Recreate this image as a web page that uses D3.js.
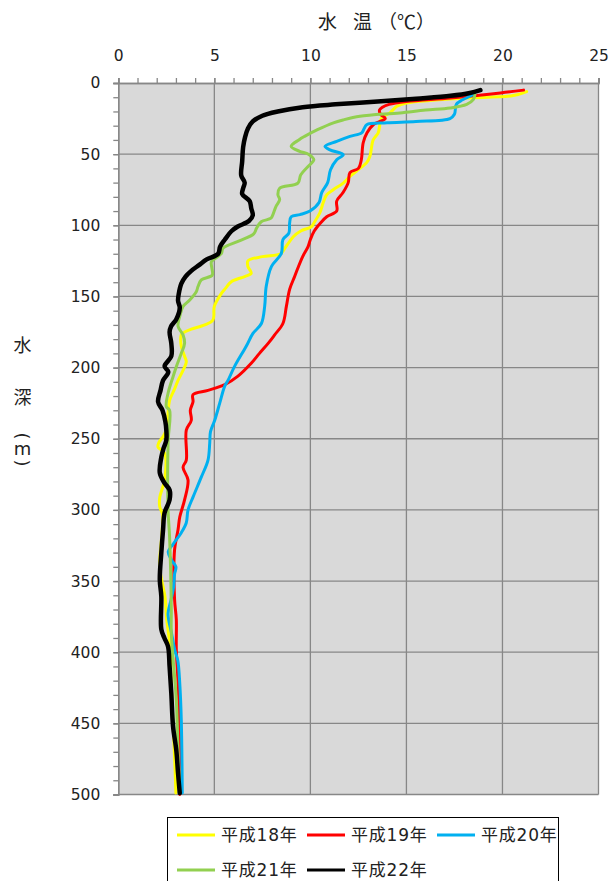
<!DOCTYPE html>
<html>
<head>
<meta charset="utf-8">
<script src="https://cdn.jsdelivr.net/npm/d3@7"></script>
<style>
  html, body { margin: 0; padding: 0; background: #fff; }
  svg { display: block; font-family: "Noto Sans CJK JP", "Noto Sans", sans-serif; }
</style>
</head>
<body>
<svg id="chart" width="611" height="881"></svg>
<script>
// Water temperature profiles: [depth (m), temperature (°C)]
const h18 = [[6,21.26],[9,20.5],[10.5,18.1],[12,16.5],[14,15],[16.4,14.5],[21,14.14],[24.6,13.7],[30.5,13.6],[35,13.53],[40,13.27],[51.5,13.1],[56,12.93],[60,12.58],[65.6,12.06],[70.3,11.71],[75,11.19],[78.5,10.85],[84,10.67],[91,10.5],[98,10.2],[101,10.05],[104,9.5],[108,9.11],[116,8.68],[120,8.45],[122,7.5],[125,6.75],[129,6.75],[133.7,6.92],[136,6.58],[139.6,5.88],[144,5.6],[148,5.36],[157,5.0],[166.5,4.93],[170,4.5],[173,3.8],[175,3.45],[177,3.28],[185,3.28],[192,3.45],[196,3.54],[202,3.37],[209,3.11],[215,2.93],[223,2.67],[232,2.59],[242,2.55],[248,2.35],[253,2.1],[256,2.07],[260,2.41],[279,2.41],[291,2.16],[298,2.16],[303,2.3],[320,2.25],[335,2.16],[345,2.2],[361,2.43],[377,2.52],[396,2.69],[420,2.75],[450,2.85],[480,2.95],[499,3.0]];

const h19 = [[5,21.1],[7,19.9],[10.5,17.3],[13,15],[15,14.1],[17,13.75],[19,13.6],[22,13.65],[25,13.9],[29,13.3],[35,12.95],[42,12.75],[54,12.65],[60,12.5],[63,12.06],[70,11.97],[77,11.7],[83,11.37],[90,11.37],[94,10.85],[98,10.55],[104,10.2],[110,10.0],[115,9.88],[122,9.6],[130,9.35],[136,9.18],[145,8.92],[157,8.75],[169,8.57],[177,8.14],[183,7.8],[190,7.35],[197,6.92],[206,6.23],[212,5.54],[216,4.67],[219,3.89],[224,3.89],[230,3.75],[237,3.8],[244,3.54],[265,3.54],[270,3.37],[279,3.63],[293,3.45],[305,3.2],[314,3.11],[328,2.93],[363,2.93],[377,3.02],[398,3.02],[421,3.11],[457,3.2],[500,3.2]];

const h20 = [[8,18.48],[10,18.2],[12,17.9],[15,17.6],[22,17.5],[25,17.27],[27,15.5],[28,14.0],[29.3,12.93],[32,12.8],[35,12.67],[37.5,12.06],[41,11.37],[44.5,10.76],[47,11.02],[50.4,11.71],[54,11.37],[61,11.05],[70,10.9],[77,10.59],[84,10.45],[90,9.98],[92.5,9.46],[94,9.0],[98.4,8.92],[105.5,8.88],[110,8.57],[119.7,8.49],[129,7.97],[143,7.7],[157,7.62],[169,7.45],[176,7.01],[185,6.66],[199,6.06],[209,5.71],[213,5.54],[225,5.28],[237,5.02],[245,4.8],[253,4.76],[265,4.67],[277,4.32],[291,3.89],[300,3.63],[309,3.54],[316,3.28],[324,2.86],[329.4,2.6],[335,2.76],[340,3.0],[345,2.93],[354,2.88],[363,2.75],[373,2.59],[386.5,2.77],[399,2.95],[406,3.1],[422,3.2],[448,3.28],[499,3.33]];

const h21 = [[8,18.57],[11.7,18.48],[15,18.14],[17.6,17.27],[19,16],[21,14.66],[23.4,12.58],[26,11.7],[28,11.2],[32.8,10.37],[37.5,9.7],[40,9.4],[44.5,9.0],[48,9.44],[50,9.9],[54,10.18],[58.6,9.88],[64.5,9.5],[70.3,9.35],[74,8.4],[78.5,8.31],[82,8.4],[87,8.2],[92.5,8.05],[95,7.95],[97.5,7.44],[102,7.2],[106,7.05],[111,6.3],[116,5.46],[120,5.36],[125.6,4.85],[130,4.87],[135,4.89],[138.4,4.32],[143,4.15],[146.7,4.06],[152.5,3.72],[157,3.37],[164,3.2],[171,3.11],[177,3.37],[183,3.45],[190,3.28],[199.4,3.02],[206.4,2.85],[218,2.59],[227.5,2.5],[230,2.67],[253,2.59],[300,2.59],[319,2.67],[370,2.76],[386.5,2.76],[433.6,3.02],[469,3.11],[499,3.2]];

const h22 = [[5,18.85],[7,18.3],[9,17.3],[11,15.5],[13,13.5],[15,11.3],[17,9.6],[20,8.3],[23,7.5],[27,7.0],[32,6.75],[38,6.6],[45,6.5],[55,6.45],[65,6.4],[70,6.58],[74,6.5],[78,6.45],[83,6.84],[88,6.92],[93,7.0],[97,6.8],[101,6.2],[104,5.9],[110,5.55],[115,5.3],[120,5.2],[124,4.6],[128,4.2],[132,3.8],[136,3.5],[141,3.28],[148,3.15],[153,3.11],[158,3.2],[166,3.02],[171,2.75],[175,2.67],[183,2.76],[192,2.76],[199,2.41],[203,2.6],[209,2.33],[216,2.2],[224,2.07],[230,2.3],[238,2.45],[244,2.5],[251,2.5],[257,2.35],[263,2.24],[274,2.16],[281,2.4],[286,2.67],[293,2.67],[302,2.41],[314,2.33],[330,2.24],[349,2.16],[361,2.24],[384,2.24],[390,2.4],[396,2.59],[410,2.67],[429,2.76],[452,2.85],[469,3.02],[485,3.11],[499,3.2]];

const seriesNames = ["平成18年", "平成19年", "平成20年", "平成21年", "平成22年"];
const seriesData = [h18, h19, h20, h21, h22];
const seriesColors = ["#ffff00", "#ff0000", "#00b0f0", "#92d050", "#000000"];
const seriesWidths = [3, 3, 3, 3, 4.5];

const tempTicks = [0, 5, 10, 15, 20, 25];
const depthTicks = [0, 50, 100, 150, 200, 250, 300, 350, 400, 450, 500];

const latinFont = "\"DejaVu Sans\", \"Noto Sans CJK JP\", sans-serif";
const textColor = "#222";

const svg = d3.select("#chart");
const x = d3.scaleLinear().domain([0, 25]).range([118.3, 598.5]);
const y = d3.scaleLinear().domain([0, 500]).range([83, 794.5]);
const gridColor = "#878787";

// plot background
svg.append("rect")
  .attr("x", x(0)).attr("y", y(0))
  .attr("width", x(25) - x(0)).attr("height", y(500) - y(0))
  .attr("fill", "#d9d9d9");

// gridlines
svg.append("g").selectAll("line").data(tempTicks.filter(d => d > 0)).join("line")
  .attr("x1", d => x(d)).attr("x2", d => x(d))
  .attr("y1", y(0)).attr("y2", y(500))
  .attr("stroke", gridColor).attr("stroke-width", 1.3);
svg.append("g").selectAll("line").data(depthTicks.filter(d => d > 0)).join("line")
  .attr("x1", x(0)).attr("x2", x(25))
  .attr("y1", d => y(d)).attr("y2", d => y(d))
  .attr("stroke", gridColor).attr("stroke-width", 1.3);

// minor ticks
const topMinor = svg.append("g").attr("transform", `translate(0,${y(0)})`)
  .call(d3.axisTop(x).tickValues(d3.range(0, 26, 1)).tickSize(5).tickFormat(""));
const leftMinor = svg.append("g").attr("transform", `translate(${x(0)},0)`)
  .call(d3.axisLeft(y).tickValues(d3.range(0, 501, 10)).tickSize(5).tickFormat(""));
[topMinor, leftMinor].forEach(g => {
  g.selectAll("path,line").attr("stroke", gridColor).attr("stroke-width", 1.3);
});

// major axes with labels
const topAxis = svg.append("g").attr("transform", `translate(0,${y(0)})`)
  .call(d3.axisTop(x).tickValues(tempTicks).tickSize(5).tickPadding(17).tickFormat(d3.format("d")));
const leftAxis = svg.append("g").attr("transform", `translate(${x(0)},0)`)
  .call(d3.axisLeft(y).tickValues(depthTicks).tickSize(5).tickPadding(13).tickFormat(d3.format("d")));
[topAxis, leftAxis].forEach(g => {
  g.selectAll("path,line").attr("stroke", gridColor).attr("stroke-width", 1.3);
  g.selectAll("text").attr("fill", textColor).attr("font-size", 15.5)
    .attr("font-family", latinFont);
});

// profile lines
const line = d3.line()
  .x(d => x(d[1])).y(d => y(d[0]))
  .curve(d3.curveCatmullRom.alpha(0.5));
svg.append("g").selectAll("path").data(seriesData).join("path")
  .attr("d", d => line(d))
  .attr("fill", "none")
  .attr("stroke", (d, i) => seriesColors[i])
  .attr("stroke-width", (d, i) => seriesWidths[i])
  .attr("stroke-linejoin", "round").attr("stroke-linecap", "round");

// axis titles
const xTitle = svg.append("text").attr("y", 29).attr("font-size", 19).attr("fill", textColor);
xTitle.append("tspan").attr("x", 318).text("水");
xTitle.append("tspan").attr("x", 353).text("温");
xTitle.append("tspan").attr("x", 378).text("（℃）");

const yTitle = svg.append("g").attr("font-size", 18).attr("fill", textColor);
yTitle.append("text").attr("x", 22.5).attr("y", 352).attr("text-anchor", "middle").text("水");
yTitle.append("text").attr("x", 22.5).attr("y", 404).attr("text-anchor", "middle").text("深");
yTitle.append("text").attr("text-anchor", "middle").attr("dominant-baseline", "central")
  .attr("font-family", latinFont)
  .attr("transform", "translate(22.5,436) rotate(90)").text("(");
yTitle.append("text").attr("x", 22.5).attr("y", 455).attr("text-anchor", "middle")
  .attr("font-family", latinFont).text("m");
yTitle.append("text").attr("text-anchor", "middle").attr("dominant-baseline", "central")
  .attr("font-family", latinFont)
  .attr("transform", "translate(22.5,463) rotate(90)").text(")");

// legend
const legend = svg.append("g");
legend.append("rect").attr("x", 167.5).attr("y", 817.5).attr("width", 391).attr("height", 80)
  .attr("fill", "#fff").attr("stroke", "#000").attr("stroke-width", 1);
const legendPos = [[177, 835], [307, 835], [437, 835], [177, 870], [307, 870]];
seriesNames.forEach((name, i) => {
  const [lx, ly] = legendPos[i];
  legend.append("line").attr("x1", lx).attr("x2", lx + 38).attr("y1", ly).attr("y2", ly)
    .attr("stroke", seriesColors[i]).attr("stroke-width", 3);
  legend.append("text").attr("x", lx + 44).attr("y", ly).attr("dy", "0.35em")
    .attr("font-size", 17).attr("letter-spacing", 0.8)
    .attr("font-family", latinFont).attr("fill", textColor).text(name);
});
</script>
</body>
</html>
